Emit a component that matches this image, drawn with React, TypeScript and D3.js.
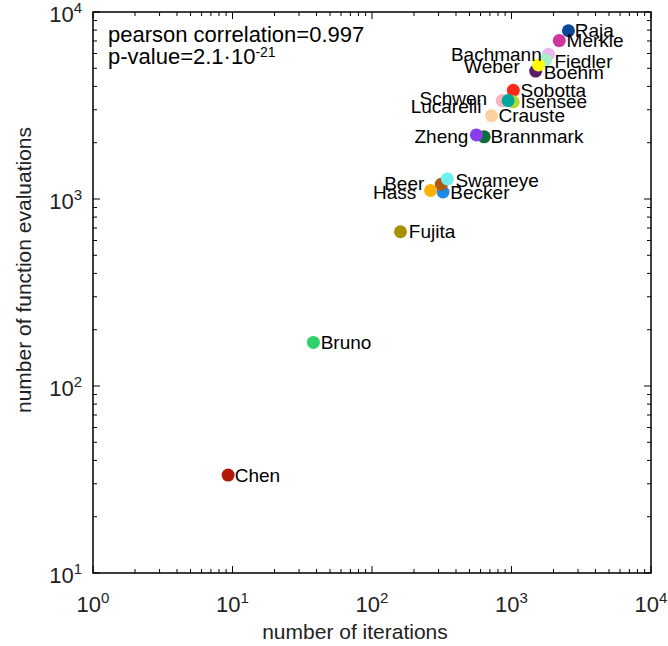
import React from "react";
import * as d3 from "d3";

const names = ["Chen","Bruno","Fujita","Becker","Beer","Hass","Swameye","Brannmark","Zheng","Crauste","Sobotta","Isensee","Schwen","Lucarelli","Boehm","Bachmann","Fiedler","Weber","Merkle","Raja"];
const iterations = [9.3,38,160,323,314,263,347,637,560,718,1030,1030,857,946,1490,1840,1760,1560,2200,2560];
const evaluations = [33.4,171,668,1090,1200,1110,1280,2150,2200,2790,3810,3310,3360,3360,4830,5940,5530,5210,7030,7940];
const colors = ["#b01a0a","#2ed16a","#a89000","#1a8ce8","#b05a10","#ffb000","#6ef0f0","#0e6e3a","#8a3cf0","#fdd0a2","#ff2a1a","#b5d930","#f7b6c2","#00a89c","#5c1a6a","#eab8f0","#a9f0c8","#ffff00","#d0359d","#08479a"];
// label placement: dx (px from dot centre; negative = text ends left of dot), dy
const labelDx = [6.6,7.3,8.4,7.3,-17,-14.3,8,6.3,-8,7,7.3,7.3,-15,-26.7,8,-6.7,8.7,-18.7,7.3,6.3];
const labelDy = [0,0,0,0,-1,2,1,0,1,0,0,0,-2.7,6,1.7,0,1,1.7,0,0];

const xDecades = [0,1,2,3,4];
const yDecades = [1,2,3,4];
const corrText = "pearson correlation=0.997";
const pBase = "p-value=2.1·10";
const pExp = "-21";

const W = 668, H = 646;
const L = 93, R = 651, T = 12, B = 573;
const FONT = "'Liberation Sans', Arial, Helvetica, sans-serif";

export default function App() {
  const x = d3.scaleLog().domain([1, 1e4]).range([L, R]);
  const y = d3.scaleLog().domain([10, 1e4]).range([B, T]);

  const xMinor: number[] = [];
  for (let d = 0; d < 4; d++) for (let k = 2; k <= 9; k++) xMinor.push(k * Math.pow(10, d));
  const yMinor: number[] = [];
  for (let d = 1; d < 4; d++) for (let k = 2; k <= 9; k++) yMinor.push(k * Math.pow(10, d));

  const majorLen = 7, minorLen = 4;

  return (
    <svg width={W} height={H} style={{ position: "absolute", left: 0, top: 0, background: "#fff" }} fontFamily={FONT}>
      <rect x={0} y={0} width={W} height={H} fill="#fff" />
      {/* ticks */}
      <g stroke="#000" strokeWidth={1}>
        {xDecades.map((d) => {
          const px = x(Math.pow(10, d));
          return (
            <g key={"xm" + d}>
              <line x1={px} x2={px} y1={B} y2={B - majorLen} />
              <line x1={px} x2={px} y1={T} y2={T + majorLen} />
            </g>
          );
        })}
        {xMinor.map((v) => {
          const px = x(v);
          return (
            <g key={"xn" + v}>
              <line x1={px} x2={px} y1={B} y2={B - minorLen} />
              <line x1={px} x2={px} y1={T} y2={T + minorLen} />
            </g>
          );
        })}
        {yDecades.map((d) => {
          const py = y(Math.pow(10, d));
          return (
            <g key={"ym" + d}>
              <line x1={L} x2={L + majorLen} y1={py} y2={py} />
              <line x1={R} x2={R - majorLen} y1={py} y2={py} />
            </g>
          );
        })}
        {yMinor.map((v) => {
          const py = y(v);
          return (
            <g key={"yn" + v}>
              <line x1={L} x2={L + minorLen} y1={py} y2={py} />
              <line x1={R} x2={R - minorLen} y1={py} y2={py} />
            </g>
          );
        })}
      </g>
      <rect x={L} y={T} width={R - L} height={B - T} fill="none" stroke="#000" strokeWidth={1.5} />

      {/* x tick labels */}
      {xDecades.map((d) => (
        <text key={"xl" + d} x={x(Math.pow(10, d))} y={612} textAnchor="middle" fontSize={22} fill="#222">
          <tspan>10</tspan>
          <tspan dy={-9} fontSize={15}>{d}</tspan>
        </text>
      ))}
      {/* y tick labels */}
      {yDecades.map((d) => (
        <text key={"yl" + d} x={82} y={y(Math.pow(10, d)) + 10} textAnchor="end" fontSize={22} fill="#222">
          <tspan>10</tspan>
          <tspan dy={-9} fontSize={15}>{d}</tspan>
        </text>
      ))}

      {/* axis titles */}
      <text x={355} y={639} textAnchor="middle" fontSize={21} fill="#222">number of iterations</text>
      <text transform={`translate(31, 270) rotate(-90)`} textAnchor="middle" fontSize={21} fill="#222">number of function evaluations</text>

      {/* annotation */}
      <text x={108} y={42} fontSize={22} fill="#000">{corrText}</text>
      <text x={108} y={64} fontSize={22} fill="#000">
        <tspan>{pBase}</tspan>
        <tspan dy={-7} fontSize={14}>{pExp}</tspan>
      </text>

      {/* points */}
      {names.map((n, i) => (
        <circle key={"c" + n} cx={x(iterations[i])} cy={y(evaluations[i])} r={6.5} fill={colors[i]} />
      ))}
      {names.map((n, i) => (
        <text
          key={"t" + n}
          x={x(iterations[i]) + labelDx[i]}
          y={y(evaluations[i]) + labelDy[i]}
          dy="0.35em"
          textAnchor={labelDx[i] < 0 ? "end" : "start"}
          fontSize={19}
          fill="#000"
        >
          {n}
        </text>
      ))}
    </svg>
  );
}
